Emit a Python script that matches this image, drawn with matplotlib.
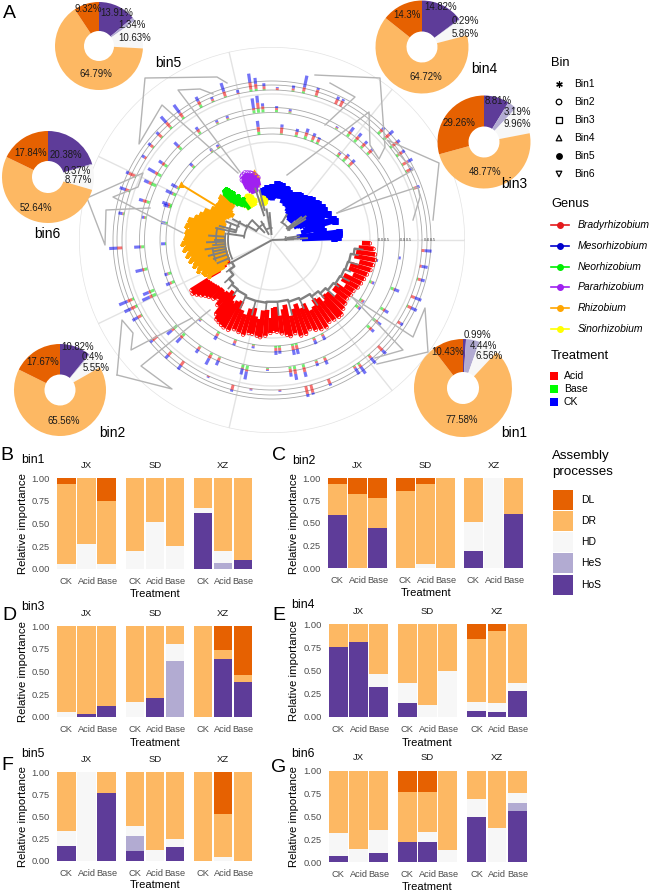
import numpy as np
import matplotlib
matplotlib.use("Agg")
import matplotlib.pyplot as plt

plt.rcParams['font.family'] = ['Liberation Sans', 'DejaVu Sans']

W, H = 650, 891

# ---- assembly processes
processes = ['HoS', 'HeS', 'HD', 'DR', 'DL']
process_colors = {'DL': '#E66101', 'DR': '#FDB863', 'HD': '#F7F7F7', 'HeS': '#B2ABD2', 'HoS': '#5E3C99'}
treatments = ['CK', 'Acid', 'Base']
sites = ['JX', 'SD', 'XZ']

# ---- pies, clockwise from the top in the order of processes
pie_bin1 = [0.99, 4.44, 6.56, 77.58, 10.43]
pie_bin2 = [10.82, 0.4, 5.55, 65.56, 17.67]
pie_bin3 = [8.81, 3.19, 9.96, 48.77, 29.26]
pie_bin4 = [14.82, 0.29, 5.86, 64.72, 14.3]
pie_bin5 = [13.91, 1.34, 10.63, 64.79, 9.32]
pie_bin6 = [20.38, 0.37, 8.77, 52.64, 17.84]

# ---- stacked bars, order JX CK/Acid/Base, SD ..., XZ ...
bin1_HoS = [0, 0, 0, 0, 0, 0, .61, 0, .10]
bin1_HeS = [0, 0, 0, 0, 0, 0, 0, .065, 0]
bin1_HD = [.06, .27, .06, .20, .52, .25, .06, .13, 0]
bin1_DR = [.87, .73, .69, .80, .48, .75, .33, .805, .90]
bin1_DL = [.07, 0, .25, 0, 0, 0, 0, 0, 0]

bin2_HoS = [.59, 0, .45, 0, 0, 0, .19, 0, .60]
bin2_HeS = [0, 0, 0, 0, 0, 0, 0, 0, 0]
bin2_HD = [0, 0, 0, 0, .04, 0, .32, 1, 0]
bin2_DR = [.34, .82, .33, .86, .89, 1, .49, 0, .40]
bin2_DL = [.07, .18, .22, .14, .07, 0, 0, 0, 0]

bin3_HoS = [0, .03, .12, 0, .21, 0, 0, .64, .38]
bin3_HeS = [0, 0, 0, 0, 0, .62, 0, 0, 0]
bin3_HD = [.05, 0, 0, .17, 0, .18, 0, 0, 0]
bin3_DR = [.95, .97, .88, .83, .79, .20, 1, .10, .08]
bin3_DL = [0, 0, 0, 0, 0, 0, 0, .26, .54]

bin4_HoS = [.75, .81, .32, .15, 0, 0, .06, .055, .28]
bin4_HeS = [0, 0, 0, 0, 0, 0, 0, 0, 0]
bin4_HD = [0, 0, .14, .22, .13, .49, .10, .095, .09]
bin4_DR = [.25, .19, .54, .63, .87, .51, .68, .775, .63]
bin4_DL = [0, 0, 0, 0, 0, 0, .16, .075, 0]

bin5_HoS = [.17, 0, .76, .11, 0, .16, 0, 0, 0]
bin5_HeS = [0, 0, 0, .17, 0, 0, 0, 0, 0]
bin5_HD = [.17, 1, 0, .11, .12, .09, 0, .04, 0]
bin5_DR = [.66, 0, .24, .61, .88, .75, 1, .49, 1]
bin5_DL = [0, 0, 0, 0, 0, 0, 0, .47, 0]

bin6_HoS = [.07, 0, .10, .22, .22, 0, .49, 0, .56]
bin6_HeS = [0, 0, 0, 0, 0, 0, 0, 0, .09]
bin6_HD = [.25, .14, .25, 0, .11, .13, .20, .37, .11]
bin6_DR = [.68, .86, .65, .55, .44, .87, .31, .63, .24]
bin6_DL = [0, 0, 0, .23, .23, 0, 0, 0, 0]

# ---- tracks round the tree: angle (deg), then Base / Acid / CK lengths
outer_theta = [356, 350, 345, 338, 334, 327, 315, 310, 305, 303, 292, 285, 283, 273, 262, 255, 245, 234, 228, 220,
               210, 206, 203, 183, 170, 161, 155, 147, 142, 137, 132, 126, 118, 113, 108, 103, 98, 96, 93, 88,
               82, 78, 73, 65, 63, 45, 42, 38, 34, 30, 27, 20]
outer_base = [0, 0, 1, 0, 1, 0, 0, 1, 2, 1, 0, 0, 0, 0, 0, 0, 0, 0, 1, 0,
              1, 2, 2, 0, 1, 1, 1, 0, 1, 1, 2, 2, 3, 1, 1, 0, 2, 2, 1, 0,
              1, 2, 1, 0, 0, 3, 3, 2, 2, 1, 1, 1]
outer_acid = [3, 2, 3, 4, 4, 3, 6, 3, 3, 2, 5, 8, 8, 1, 1, 5, 1, 5, 4, 6,
              4, 5, 5, 5, 1, 4, 7, 2, 3, 4, 6, 5, 4, 2, 5, 1, 7, 5, 3, 2,
              2, 4, 6, 5, 6, 3, 5, 7, 5, 6, 4, 3]
outer_ck = [7, 6, 4, 7, 6, 3, 5, 7, 8, 7, 2, 2, 3, 1, 1, 2, 1, 5, 4, 3,
            6, 7, 9, 8, 4, 6, 3, 3, 3, 3, 8, 10, 5, 2, 9, 3, 9, 6, 3, 1,
            3, 12, 2, 3, 2, 3, 5, 3, 3, 5, 3, 3]

middle_theta = [352, 338, 328, 322, 318, 294, 290, 284, 280, 278, 268, 259, 257, 246, 242, 236, 227, 222, 205, 203,
                193, 183, 170, 163, 155, 150, 145, 135, 124, 115, 110, 98, 96, 94, 88, 82, 60, 54, 50, 46, 42]
middle_base = [0, 3, 3, 3, 3, 1, 1, 3, 3, 2, 1, 4, 3, 1, 2, 1, 3, 4, 4, 4,
               3, 3, 1, 3, 5, 4, 3, 3, 2, 1, 1, 3, 4, 3, 2, 1, 1, 3, 3, 2, 2]
middle_acid = [0, 1, 2, 3, 3, 3, 2, 5, 5, 4, 1, 2, 1, 3, 4, 3, 3, 3, 3, 2,
               2, 1, 1, 4, 3, 3, 3, 2, 3, 1, 1, 2, 6, 3, 2, 1, 1, 3, 4, 4, 4]
middle_ck = [2, 5, 4, 4, 3, 4, 3, 5, 6, 4, 1, 8, 6, 5, 7, 4, 6, 6, 8, 6,
             7, 6, 2, 4, 5, 8, 4, 5, 3, 2, 2, 10, 7, 3, 2, 2, 1, 5, 4, 3, 2]

inner_theta = [349, 337, 326, 322, 298, 293, 283, 281, 274, 272, 260, 250, 240, 228, 203, 198, 182, 171, 162, 161,
               155, 151, 137, 124, 120, 97, 85, 77, 72, 68, 65, 52, 48, 44]
inner_base = [1, 2, 2, 3, 1, 1, 2, 2, 2, 2, 1, 1, 2, 1, 3, 3, 1, 2, 2, 2,
              3, 2, 2, 1, 1, 3, 1, 2, 3, 2, 2, 2, 3, 2]
inner_acid = [0, 1, 2, 1, 2, 2, 4, 4, 3, 3, 1, 3, 3, 1, 2, 1, 0, 0, 1, 2,
              1, 1, 1, 1, 1, 5, 6, 3, 4, 4, 3, 2, 4, 4]
inner_ck = [1, 2, 1, 2, 4, 4, 5, 5, 3, 4, 2, 2, 4, 1, 4, 3, 4, 4, 5, 6,
            7, 6, 3, 2, 2, 6, 3, 3, 4, 3, 2, 1, 2, 3]

# ---- the tree: angle (deg), start of the clade fan, radius of the tips
red_theta = [206, 208, 210, 212, 214, 216, 218, 220, 222, 225, 228, 230, 233, 235, 237, 239, 241, 244, 247, 250,
             253, 256, 258, 261, 263, 266, 269, 271, 273, 276, 279, 281, 284, 287, 290, 293, 296, 299, 302, 305,
             308, 311, 313, 316, 319, 322, 325, 328, 331, 334, 337, 340, 343, 346, 349, 352, 355, 358]
red_in = [47, 52, 60, 75, 74, 73, 72, 71, 70, 69, 70, 68, 64, 66, 72, 74, 70, 68, 76, 79,
          72, 70, 78, 80, 71, 70, 78, 68, 67, 76, 70, 66, 78, 72, 68, 74, 71, 80, 78, 72,
          74, 80, 75, 76, 84, 78, 78, 86, 80, 80, 88, 82, 82, 90, 84, 85, 87, 90]
red_out = [62, 68, 72, 95, 96, 93, 90, 87, 85, 83, 80, 85, 93, 97, 98, 99, 100, 100, 97, 98,
           99, 96, 96, 97, 98, 96, 93, 91, 92, 94, 96, 98, 96, 100, 100, 97, 100, 102, 103, 100,
           101, 102, 102, 99, 97, 95, 96, 96, 98, 99, 100, 101, 103, 104, 105, 104, 102, 98]

blue_theta = [2, 3, 5, 7, 10, 12, 14, 17, 19, 21, 23, 25, 28, 30, 33, 35, 38, 40, 43, 45,
              48, 50, 53, 55, 58, 60, 63, 65, 68, 70, 73, 75, 78, 80, 83, 85, 88, 90, 93, 95, 98, 100]
blue_in = [30, 30, 28, 25, 42, 44, 30, 33, 35, 40, 42, 30, 28, 25, 30, 35, 33, 35, 30, 25,
           26, 25, 27, 27, 30, 30, 32, 35, 36, 36, 38, 38, 42, 42, 42, 42, 41, 40, 40, 40, 44, 45]
blue_out = [62, 66, 67, 68, 52, 48, 50, 66, 65, 52, 50, 62, 56, 60, 60, 56, 59, 58, 53, 57,
            55, 50, 53, 50, 52, 52, 48, 50, 47, 50, 52, 53, 51, 55, 55, 56, 52, 53, 50, 52, 50, 50]

orange_theta = [136, 138, 140, 142, 144, 146, 148, 150, 152, 154, 156, 158, 160, 162, 163, 165, 166, 168, 170, 172,
                174, 176, 178, 180, 182, 184, 186, 188, 190, 192, 194, 196, 198, 200, 202, 204, 206, 208, 209]
orange_in = [52, 51, 50, 50, 50, 48, 45, 47, 48, 50, 52, 51, 50, 49, 48, 49, 50, 49, 48, 48,
             48, 48, 47, 47, 46, 46, 47, 47, 47, 46, 46, 46, 46, 46, 46, 48, 50, 54, 55]
orange_out = [66, 64, 68, 65, 66, 63, 66, 65, 68, 67, 73, 72, 77, 75, 80, 79, 86, 84, 87, 83,
              86, 84, 87, 85, 90, 86, 88, 84, 86, 82, 84, 80, 82, 78, 80, 75, 75, 71, 72]
orange_far_theta = [148.6, 103, 105, 106]
orange_far_in = [66, 55, 60, 62]
orange_far_out = [107, 66, 70, 68]

purple_theta = [103, 105, 107, 108, 110, 112, 114, 115, 116]
purple_in = [56, 54, 51, 50, 50, 50, 52, 55, 57]
purple_out = [64, 67, 69, 70, 71, 72, 71, 70, 67]

yellow_theta = [100, 102, 104, 106, 114, 116, 118, 120, 122, 124, 126, 128]
yellow_in = [36, 35, 35, 36, 40, 38, 38, 38, 38, 38, 38, 42]
yellow_out = [41, 43, 43, 41, 44, 48, 50, 51, 50, 49, 47, 46]

green_theta = [126, 128, 130, 131, 132, 133, 134, 135, 136]
green_in = [38, 42, 44, 45, 47, 48, 48, 52, 55]
green_out = [50, 55, 60, 62, 66, 68, 68, 68, 67]

# backbone of the big red clade
spine_theta = [209, 215, 222, 228, 235, 245, 255, 265, 275, 285, 295, 305, 312, 318, 325, 332, 338, 344, 350, 354]
spine_r = [46, 52, 58, 60, 61, 63, 63, 62, 62, 64, 66, 69, 72, 75, 77, 78, 79, 80, 83, 87]
spine_stub = [50, 56, 64, 66, 68, 76, 78, 70, 76, 78, 76, 80, 78, 84, 82, 88, 85, 90, 88, 92]

# other branches: theta, r from, r to
twig_theta = [209, 2, 3, 8, 32, 35, 38, 60, 95, 100, 104, 108, 120, 135, 150, 152, 158, 165, 172, 176,
              180, 182, 185, 188, 191, 194, 198, 203, 168]
twig_r0 = [0, 0, 12, 15, 18, 20, 18, 20, 5, 12, 30, 25, 6, 10, 18, 28, 35, 36, 28, 47,
           47, 47, 47, 47, 47, 47, 47, 46, 37]
twig_r1 = [46, 22, 36, 28, 40, 42, 38, 30, 28, 32, 52, 55, 22, 28, 30, 45, 50, 55, 46, 64,
           58, 66, 60, 68, 60, 66, 62, 60, 58]
arc_theta0 = [0, 30, 92, 118, 135, 150, 160, 172, 168, 188]
arc_theta1 = [12, 62, 118, 150, 175, 168, 205, 205, 184, 200]
arc_r = [14, 20, 12, 18, 28, 37, 44, 47, 56, 60]

# grey guide lines from the pies to the clades, in figure pixels
link_bin5_a = [(238, 173), (162, 105), (139, 144), (145, 78), (217, 77), (227, 83)]
link_bin5_b = [(240, 172), (178, 90), (200, 89), (213, 94)]
link_bin4_a = [(287, 175), (369, 112), (370, 145), (379, 159), (385, 147), (380, 78), (315, 75)]
link_bin4_b = [(325, 125), (355, 97), (330, 83)]
link_bin3_a = [(337, 213), (413, 170), (387, 140), (439, 163), (433, 220)]
link_bin3_b = [(337, 213), (418, 187), (420, 197), (413, 220)]
link_bin1_a = [(352, 297), (413, 337), (425, 308), (428, 352), (377, 364)]
link_bin1_b = [(352, 297), (403, 350), (375, 358)]
link_bin2_a = [(117, 375), (172, 389), (141, 366), (210, 310)]
link_bin2_b = [(117, 375), (122, 320), (133, 333), (131, 350), (192, 318)]
link_bin6_a = [(87, 198), (143, 173), (138, 187), (113, 197), (183, 233)]
link_bin6_b = [(87, 198), (105, 245), (106, 210), (150, 208)]
links = [link_bin5_a, link_bin5_b, link_bin4_a, link_bin4_b, link_bin3_a, link_bin3_b,
         link_bin1_a, link_bin1_b, link_bin2_a, link_bin2_b, link_bin6_a, link_bin6_b]


def px_axes(x0, y0, x1, y1, **kw):
    # axes from figure pixels (y counted from the top)
    return fig.add_axes([x0 / W, 1 - y1 / H, (x1 - x0) / W, (y1 - y0) / H], **kw)


fig = plt.figure(figsize=(W / 100, H / 100), dpi=100)

# ---------- tree
cx, cy, rmax = 272, 240, 193
pol = px_axes(cx - rmax, cy - rmax, cx + rmax, cy + rmax, projection='polar')
pol.set_zorder(1)
pol.patch.set_alpha(0)
pol.set_ylim(0, rmax)
pol.set_thetagrids([0, 51.43, 102.86, 154.29, 205.71, 257.14, 308.57], labels=[])
pol.set_rgrids([50, 98, 146, 193], labels=[])
pol.grid(color='#E3E3E3', lw=1)
pol.spines['polar'].set_visible(False)
pol.set_axisbelow(True)

ring_t = np.linspace(0, 2 * np.pi, 400)
for r in [106, 112, 127.5, 132.5, 150, 155, 159]:
    pol.plot(ring_t, np.full_like(ring_t, r), color='#A8A8A8', lw=0.6, zorder=2)


def track(thetas, base, acid, ck, r0):
    t = np.radians(thetas)
    b0 = r0 + np.array(base)
    b1 = b0 + np.array(acid)
    w = 2.9 / r0  # about the same pixel width on every track
    pol.bar(t, base, width=w, bottom=r0, color='#00E000', alpha=0.55, lw=0, zorder=3)
    pol.bar(t, acid, width=w, bottom=b0, color='#F00000', alpha=0.55, lw=0, zorder=3)
    pol.bar(t, ck, width=w, bottom=b1, color='#0000F0', alpha=0.55, lw=0, zorder=3)


track(outer_theta, outer_base, outer_acid, outer_ck, 150)
track(middle_theta, middle_base, middle_acid, middle_ck, 128)
track(inner_theta, inner_base, inner_acid, inner_ck, 106)

for r in [111, 133, 157]:
    pol.text(0, r, '0.0 0.5', fontsize=2.6, ha='center', va='center', color='#333333', zorder=4)


def clade(thetas, r_in, r_out, color, lw, marker, filled=False, size=12):
    t = np.radians(thetas)
    pol.vlines(t, r_in, r_out, color=color, lw=lw, zorder=5)
    pol.scatter(t, r_out, marker=marker, s=size, facecolors=color if filled else 'none',
                edgecolors=color, linewidths=0.5, zorder=5)


clade(red_theta, red_in, red_out, '#FF0000', 3.4, 'o', size=6)
clade(blue_theta, blue_in, blue_out, '#0000FF', 3.4, 's', filled=True, size=14)
clade(orange_theta, orange_in, orange_out, '#FFA500', 3.4, '^', filled=True, size=10)
clade(orange_far_theta, orange_far_in, orange_far_out, '#FFA500', 1.4, '^', filled=True, size=14)
clade(purple_theta, purple_in, purple_out, '#A020F0', 2.6, 'o', size=14)
clade(yellow_theta, yellow_in, yellow_out, '#FFFF00', 3.4, 'o', filled=True, size=14)
clade(green_theta, green_in, green_out, '#00EE00', 2.8, 'v', filled=True, size=10)

grey = '#808080'
pol.plot(np.radians(spine_theta), spine_r, color=grey, lw=1.7, zorder=6, drawstyle='steps-post')
pol.vlines(np.radians(spine_theta), spine_r, spine_stub, color=grey, lw=1.2, zorder=6)
pol.vlines(np.radians(twig_theta), twig_r0, twig_r1, color=grey, lw=1.4, zorder=6)
for t0, t1, r in zip(arc_theta0, arc_theta1, arc_r):
    arc = np.radians(np.linspace(t0, t1, 30))
    pol.plot(arc, np.full_like(arc, r), color=grey, lw=1.3, zorder=6)

# ---------- guide lines, on their own layer below the pies
lay = px_axes(0, 0, W, H)
lay.set_zorder(2)
lay.patch.set_alpha(0)
lay.set_xlim(0, W)
lay.set_ylim(H, 0)
lay.axis('off')
for pts in links:
    lay.plot([p[0] for p in pts], [p[1] for p in pts], color='#B4B4B4', lw=1.0, solid_joinstyle='round')

# ---------- pies
pie_colors = [process_colors[p] for p in processes]
pie_values = [pie_bin1, pie_bin2, pie_bin3, pie_bin4, pie_bin5, pie_bin6]
pie_centers = [(463, 388), (60, 390), (484, 142), (422, 47), (99, 46), (48, 177)]
pie_radius = [49, 46, 46.5, 46.5, 44, 46]
pie_hole = [16, 15.5, 15.5, 15.5, 15, 16]
for vals, (px, py), rad, hole in zip(pie_values, pie_centers, pie_radius, pie_hole):
    a = px_axes(px - rad, py - rad, px + rad, py + rad)
    a.set_zorder(3)
    a.pie(vals, colors=pie_colors, startangle=90, counterclock=False, radius=1,
          wedgeprops=dict(width=1 - hole / rad, linewidth=0))
    a.set_xlim(-1, 1)
    a.set_ylim(-1, 1)

# ---------- text layer
top = px_axes(0, 0, W, H)
top.set_zorder(5)
top.patch.set_alpha(0)
top.set_xlim(0, W)
top.set_ylim(H, 0)
top.axis('off')


def txt(x, y, s, size=7.5, ha='center', **kw):
    top.text(x, y, s, fontsize=size, ha=ha, va='center', **kw)


pie_labels = [
    (88, 9, '9.32%'), (117, 13, '13.91%'), (132, 25, '1.34%'), (135, 38, '10.63%'), (96, 74, '64.79%'),
    (31, 153, '17.84%'), (66, 155, '20.38%'), (77, 171, '0.37%'), (78, 180, '8.77%'), (36, 208, '52.64%'),
    (441, 7, '14.82%'), (407, 15, '14.3%'), (465, 21, '0.29%'), (465, 34, '5.86%'), (426, 77, '64.72%'),
    (498, 101, '8.81%'), (517, 112, '3.19%'), (517, 124, '9.96%'), (459, 123, '29.26%'), (485, 172, '48.77%'),
    (477, 335, '0.99%'), (483, 346, '4.44%'), (489, 356, '6.56%'), (448, 352, '10.43%'), (462, 420, '77.58%'),
    (78, 347, '10.82%'), (93, 357, '0.4%'), (96, 368, '5.55%'), (43, 362, '17.67%'), (64, 421, '65.56%'),
]
for x, y, s in pie_labels:
    txt(x, y, s, size=6.9, color='#1A1A1A')
for x, y, s in [(168, 63, 'bin5'), (47, 234, 'bin6'), (484, 69, 'bin4'), (514, 184, 'bin3'), (514, 433, 'bin1'), (112, 433, 'bin2')]:
    txt(x, y, s, size=9.9)
txt(9, 13, 'A', size=14)

# ---------- legends
txt(551, 63, 'Bin', size=9.3, ha='left')
bin_names = ['Bin1', 'Bin2', 'Bin3', 'Bin4', 'Bin5', 'Bin6']
bin_markers = [(6, 2, 0), 'o', 's', '^', 'o', 'v']
bin_y = [84, 102, 120, 138, 156, 174]
for name, m, y, fill in zip(bin_names, bin_markers, bin_y, ['k', 'none', 'none', 'none', 'k', 'none']):
    top.scatter([559], [y], marker=m, s=16, facecolors=fill, edgecolors='k', linewidths=0.9)
    txt(574, y, name, size=7.4, ha='left')

txt(551, 204, 'Genus', size=9.3, ha='left')
genus_names = ['Bradyrhizobium', 'Mesorhizobium', 'Neorhizobium', 'Pararhizobium', 'Rhizobium', 'Sinorhizobium']
genus_colors = ['#E41A1C', '#0000CD', '#00EE00', '#A020F0', '#FFA500', '#FFFF00']
genus_y = [225, 246, 267, 287, 308, 329]
for name, c, y in zip(genus_names, genus_colors, genus_y):
    top.plot([551, 569], [y, y], color=c, lw=1.2)
    top.scatter([560], [y], color=c, s=16, zorder=3)
    txt(578, y, name, size=7.5, ha='left', style='italic')

txt(551, 356, 'Treatment', size=9.3, ha='left')
treat_names = ['Acid', 'Base', 'CK']
treat_colors = ['#FF0000', '#00FF00', '#0000FF']
treat_y = [376, 389, 402]
for name, c, y in zip(treat_names, treat_colors, treat_y):
    top.scatter([553.5], [y], marker='s', color=c, s=32, linewidths=0)
    txt(564, y, name, size=7.5, ha='left')

txt(552, 456, 'Assembly', size=9.6, ha='left')
txt(552, 472, 'processes', size=9.6, ha='left')
legend_order = ['DL', 'DR', 'HD', 'HeS', 'HoS']
legend_y = [500, 521, 542, 563, 584.5]
for name, y in zip(legend_order, legend_y):
    top.scatter([563], [y], marker='s', color=process_colors[name], s=195, linewidths=0)
    txt(581, y, name, size=7.5, ha='left')

# ---------- bar panels
panels = [
    dict(name='bin1', letter='B', data=[bin1_HoS, bin1_HeS, bin1_HD, bin1_DR, bin1_DL],
         xs=[(57, 116), (126, 184), (194, 252)], y=(478, 569), strip=466, lab=(7, 456), bin=(33, 460), yl=23, tr=(155, 594)),
    dict(name='bin2', letter='C', data=[bin2_HoS, bin2_HeS, bin2_HD, bin2_DR, bin2_DL],
         xs=[(328, 387), (396, 455), (464, 523)], y=(478, 568), strip=466, lab=(279, 456), bin=(304, 461), yl=294, tr=(426, 593)),
    dict(name='bin3', letter='D', data=[bin3_HoS, bin3_HeS, bin3_HD, bin3_DR, bin3_DL],
         xs=[(57, 116), (126, 184), (194, 252)], y=(626, 717), strip=613, lab=(9, 616), bin=(33, 607), yl=23, tr=(155, 743)),
    dict(name='bin4', letter='E', data=[bin4_HoS, bin4_HeS, bin4_HD, bin4_DR, bin4_DL],
         xs=[(329, 388), (398, 457), (467, 527)], y=(624, 717), strip=611, lab=(279, 615), bin=(303, 605), yl=294, tr=(427, 743)),
    dict(name='bin5', letter='F', data=[bin5_HoS, bin5_HeS, bin5_HD, bin5_DR, bin5_DL],
         xs=[(57, 116), (126, 184), (194, 252)], y=(772, 861), strip=759, lab=(7, 766), bin=(33, 754), yl=23, tr=(155, 885)),
    dict(name='bin6', letter='G', data=[bin6_HoS, bin6_HeS, bin6_HD, bin6_DR, bin6_DL],
         xs=[(329, 388), (398, 457), (467, 527)], y=(771, 862), strip=758, lab=(279, 767), bin=(303, 754), yl=294, tr=(427, 887)),
]

for p in panels:
    y0, y1 = p['y']
    for i, (x0, x1) in enumerate(p['xs']):
        ax = px_axes(x0, y0, x1, y1)
        ax.set_zorder(4)
        bottom = np.zeros(3)
        for proc, series in zip(processes, p['data']):
            vals = np.array(series[i * 3:i * 3 + 3])
            ax.bar(range(3), vals, width=0.92, bottom=bottom, color=process_colors[proc], lw=0)
            bottom += vals
        ax.set_xlim(-0.46, 2.46)
        ax.set_ylim(0, 1)
        ax.set_xticks(range(3), treatments)
        ax.set_yticks([0, .25, .5, .75, 1], ['0.00', '0.25', '0.50', '0.75', '1.00'] if i == 0 else [])
        ax.tick_params(length=0, labelcolor='#4D4D4D', labelsize=6.7)
        ax.tick_params(axis='x', pad=6)
        ax.tick_params(axis='y', pad=5)
        for sp in ax.spines.values():
            sp.set_visible(False)
        txt((x0 + x1) / 2, p['strip'], sites[i], size=6.8, color='#1A1A1A')
    txt(p['yl'], (y0 + y1) / 2, 'Relative importance', size=8.2, rotation=90)
    txt(p['tr'][0], p['tr'][1], 'Treatment', size=8)
    txt(p['lab'][0], p['lab'][1], p['letter'], size=14)
    txt(p['bin'][0], p['bin'][1], p['name'], size=8.8)

fig.savefig('out.png', dpi=100)
